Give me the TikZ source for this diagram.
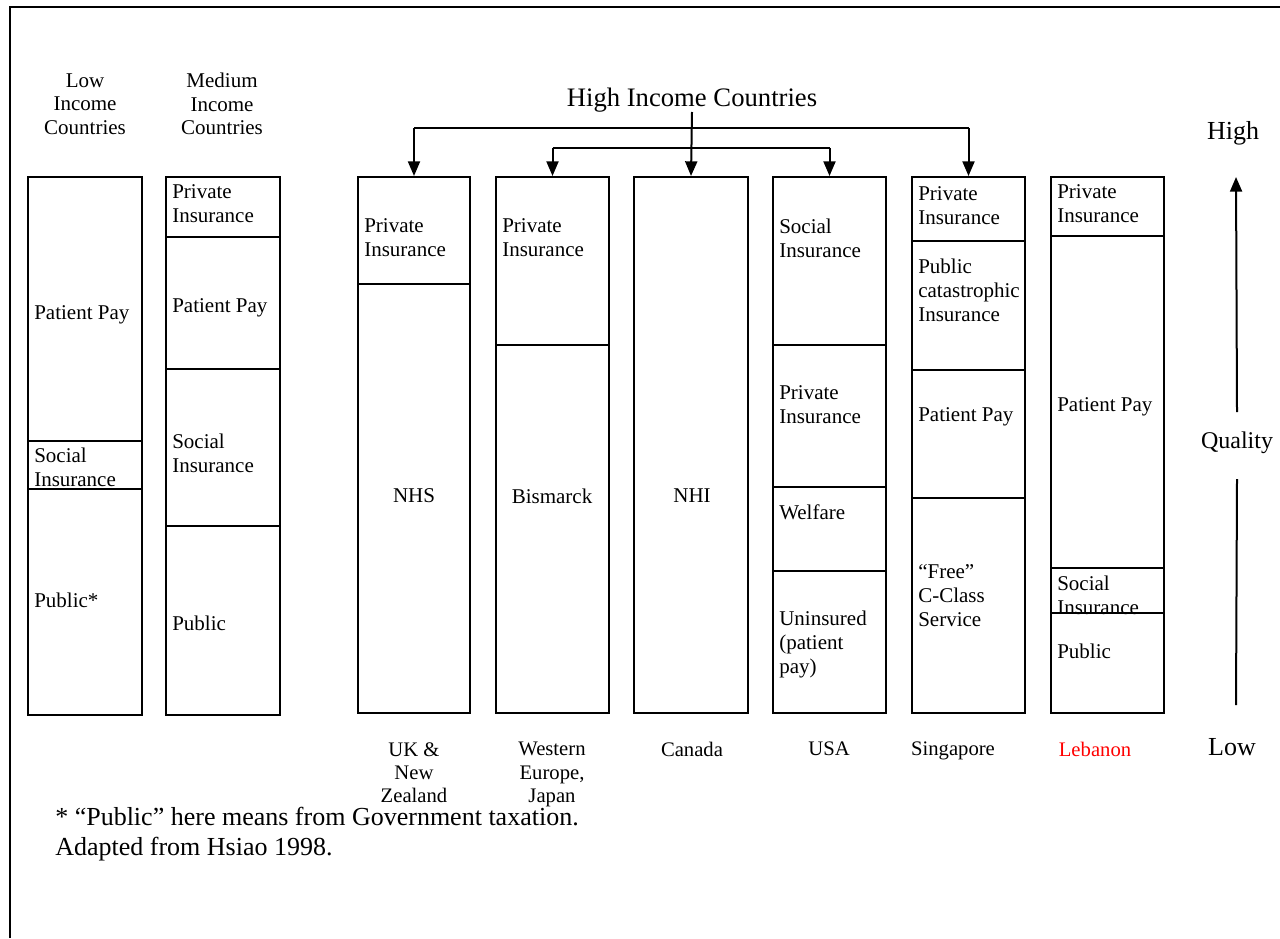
\documentclass[tikz,border=0pt]{standalone}
\usepackage{fontspec}
\setmainfont{Liberation Serif}
\usetikzlibrary{arrows.meta,fit}
\begin{document}
\begin{tikzpicture}[x=0.75pt,y=-0.75pt,
  colbox/.style={draw,line width=1.5pt,inner sep=0pt},
  divline/.style={line width=1.4pt},
  seg/.style={anchor=west,align=left,inner sep=0pt,font=\fontsize{15.75}{18}\selectfont},
  segc/.style={anchor=center,align=center,inner sep=0pt,font=\fontsize{15.75}{18}\selectfont},
  collabel/.style={anchor=north,align=center,inner sep=0pt,font=\fontsize{15.5}{17.6}\selectfont},
  toplabel/.style={anchor=center,align=center,inner sep=0pt,font=\fontsize{15.75}{17.6}\selectfont},
  axislabel/.style={anchor=center,inner sep=0pt,font=\fontsize{19.5}{22}\selectfont},
  arr/.style={line width=1.5pt,-{Triangle[width=9pt,length=11pt]}},
  conn/.style={line width=1.5pt}]
\useasboundingbox (0,0) rectangle (1280,938);
% frame
\draw[line width=1.5pt] (9.5,938) -- (9.5,7.5) -- (1280,7.5);

% column boxes
\node[colbox,fit={(28,177)(142,715)}] (low) {};
\node[colbox,fit={(166,177)(280,715)}] (med) {};
\node[colbox,fit={(358,177)(470,713)}] (uk) {};
\node[colbox,fit={(496,177)(609,713)}] (we) {};
\node[colbox,fit={(634,177)(748,713)}] (can) {};
\node[colbox,fit={(773,177)(886,713)}] (usa) {};
\node[colbox,fit={(912,177)(1025,713)}] (sing) {};
\node[colbox,fit={(1051,177)(1164,713)}] (leb) {};

% division lines
\foreach \b/\y in {low/441,low/489,med/237,med/369,med/526,uk/284,we/345,usa/345,usa/487,usa/571,sing/241,sing/370,sing/498,leb/236,leb/568,leb/613}
  \draw[divline] (\b.west |- 0,\y) -- (\b.east |- 0,\y);

% segment texts
\node[seg] (low1) at (34,315) {Patient Pay};
\node[seg] (low2) at (34,467) {Social\\Insurance};
\node[seg] (low3) at (34,600) {Public*};

\node[seg] (med1) at (172,204) {Private\\Insurance};
\node[seg] (med2) at (172,308) {Patient Pay};
\node[seg] (med3) at (172,453) {Social\\Insurance};
\node[seg] (med4) at (172,623) {Public};

\node[seg] (uk1) at (364,238) {Private\\Insurance};
\node[segc] (uk2) at (414,496) {NHS};

\node[seg] (we1) at (502,238) {Private\\Insurance};
\node[segc] (we2) at (552,496) {Bismarck};

\node[segc] (can1) at (692,496) {NHI};

\node[seg] (usa1) at (779,238) {Social\\Insurance};
\node[seg] (usa2) at (779,405) {Private\\Insurance};
\node[seg] (usa3) at (779,512) {Welfare};
\node[seg] (usa4) at (779,644) {Uninsured\\(patient\\pay)};

\node[seg] (sing1) at (918,206) {Private\\Insurance};
\node[seg] (sing2) at (918,290) {Public\\catastrophic\\Insurance};
\node[seg] (sing3) at (918,417) {Patient Pay};
\node[seg] (sing4) at (918,596) {``Free''\\C-Class\\Service};

\node[seg] (leb1) at (1057,204) {Private\\Insurance};
\node[seg] (leb2) at (1057,407) {Patient Pay};
\node[seg] (leb3) at (1057,595) {Social\\Insurance};
\node[seg] (leb4) at (1057,651) {Public};

% top labels
\node[toplabel] (lowlab) at (85,104) {Low\\Income\\Countries};
\node[toplabel] (medlab) at (222,104) {Medium\\Income\\Countries};
\node[anchor=center,inner sep=0pt,font=\fontsize{20}{24}\selectfont] (hic) at (692,100) {High Income Countries};

% bottom labels
\node[collabel] (ukl) at (414,742) {UK \&\\New\\Zealand};
\node[collabel] (wel) at (552,742) {Western\\Europe,\\Japan};
\node[collabel] (canl) at (692,742) {Canada};
\node[collabel] (usal) at (829,742) {USA};
\node[collabel] (singl) at (953,742) {Singapore};
\node[collabel,text={rgb,255:red,255;green,0;blue,0}] (lebl) at (1095,742) {Lebanon};

% high-income connectors
\coordinate (bar1) at (0,128);
\coordinate (bar2) at (0,148);
\draw[arr] (hic.south |- 0,112) -- (can.north);
\draw[conn] (uk.north |- bar1) -- (sing.north |- bar1);
\draw[arr] (uk.north |- bar1) -- (uk.north);
\draw[arr] (sing.north |- bar1) -- (sing.north);
\draw[conn] (we.north |- bar2) -- (usa.north |- bar2);
\draw[arr] (we.north |- bar2) -- (we.north);
\draw[arr] (usa.north |- bar2) -- (usa.north);

% quality axis
\node[axislabel] (high) at (1233,133) {High};
\node[axislabel,font=\fontsize{18}{22}\selectfont] (qual) at (1237,443) {Quality};
\node[axislabel] (lowq) at (1232,747) {Low};
\coordinate (axtop) at (1236,177);
\coordinate (axbot) at (1236,705);
\draw[arr] (qual.north |- 0,412) -- (axtop);
\draw[conn] (qual.south |- 0,479) -- (axbot);

% footnote
\node[anchor=west,align=left,inner sep=0pt,font=\fontsize{19.5}{22.5}\selectfont] (foot) at (55,834)
  {* ``Public'' here means from Government taxation.\\Adapted from Hsiao 1998.};
\end{tikzpicture}
\end{document}
